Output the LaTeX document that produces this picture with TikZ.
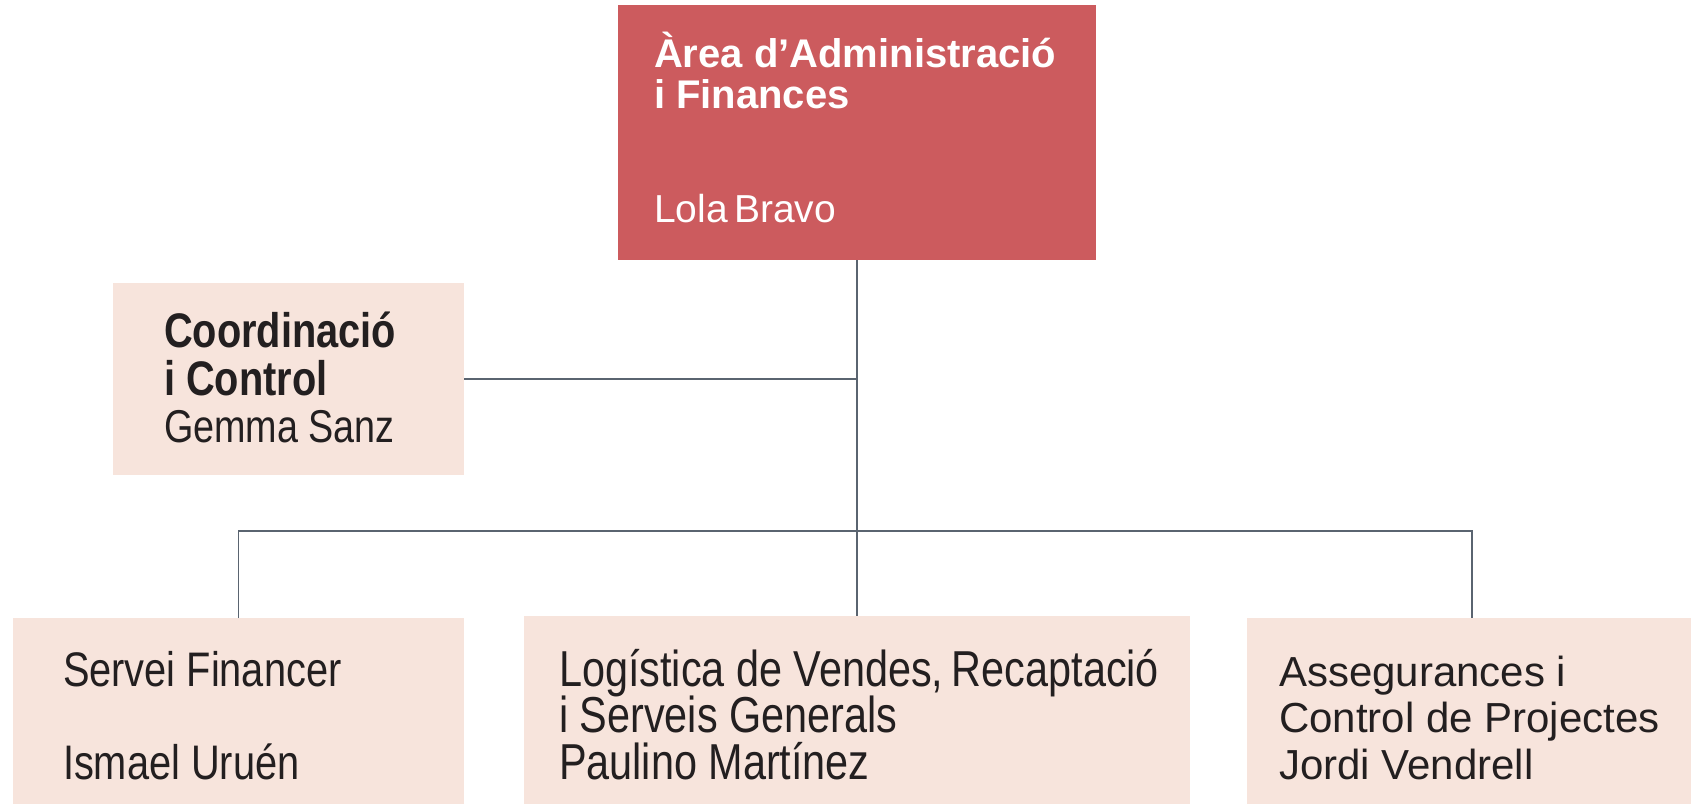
\documentclass[tikz,border=0pt]{standalone}
\usepackage{fontspec}
\setmainfont{Liberation Sans}
\newfontfamily\narrowfont[FakeStretch=0.82]{Liberation Sans}
\definecolor{topred}{HTML}{CC5B5E}
\definecolor{pinkbox}{HTML}{F7E4DC}
\definecolor{linegray}{HTML}{5A6470}
\definecolor{textdark}{HTML}{231F20}
\begin{document}
\begin{tikzpicture}[x=1pt,y=-1pt,
  boxbase/.style={rectangle, inner sep=0pt, outer sep=0pt, anchor=north west},
  redbox/.style={boxbase, fill=topred},
  pinkbx/.style={boxbase, fill=pinkbox},
  lbl/.style={anchor=base west, inner sep=0pt, outer sep=0pt, text=textdark},
  conn/.style={draw=linegray, line width=1.1pt}
]
\useasboundingbox (0,0) rectangle (1691,804);
% boxes
\node[redbox, minimum width=478pt, minimum height=255pt] (top) at (618,5) {};
\node[pinkbx, minimum width=351pt, minimum height=192pt] (coord) at (113,283) {};
\node[pinkbx, minimum width=451pt, minimum height=186pt] (left) at (13,618) {};
\node[pinkbx, minimum width=666pt, minimum height=188pt] (mid) at (524,616) {};
\node[pinkbx, minimum width=444pt, minimum height=186pt] (right) at (1247,618) {};
% texts
\node[lbl, text=white, font=\fontsize{40}{40}\selectfont\bfseries] (t1) at (654,67) {Àrea d’Administració};
\node[lbl, text=white, font=\fontsize{40}{40}\selectfont\bfseries] (t2) at (654,108) {i Finances};
\node[lbl, text=white, font=\fontsize{39}{39}\selectfont] (t3) at (654,222) {Lola\,Bravo};
\node[lbl, font=\fontsize{48.5}{48}\narrowfont\bfseries] (c1) at (164,347) {Coordinació};
\node[lbl, font=\fontsize{48.5}{48}\narrowfont\bfseries] (c2) at (164,395) {i Control};
\node[lbl, font=\fontsize{46}{46}\narrowfont] (c3) at (164,442) {Gemma Sanz};
\node[lbl, font=\fontsize{48.5}{48}\narrowfont] (l1) at (63,686) {Servei Financer};
\node[lbl, font=\fontsize{48.5}{48}\narrowfont] (l2) at (63,779) {Ismael Uruén};
\node[lbl, font=\fontsize{50.5}{50}\narrowfont] (m1) at (559,686) {Logística de Vendes,\,Recaptació};
\node[lbl, font=\fontsize{50.5}{50}\narrowfont] (m2) at (559,732) {i Serveis Generals};
\node[lbl, font=\fontsize{50.5}{50}\narrowfont] (m3) at (559,779) {Paulino Martínez};
\node[lbl, font=\fontsize{42}{42}\selectfont] (r1) at (1279,686) {Assegurances i};
\node[lbl, font=\fontsize{42}{42}\selectfont] (r2) at (1279,732) {Control de Projectes};
\node[lbl, font=\fontsize{42}{42}\selectfont] (r3) at (1279,779) {Jordi Vendrell};
% connectors
\coordinate (bus) at (top.south |- 0,531);
\draw[conn] (top.south) -- (mid.north);
\draw[conn] (coord.east) -- (coord.east -| top.south);
\draw[conn] (left.north) |- (bus) -| ([xshift=3pt]right.north);
\end{tikzpicture}
\end{document}
